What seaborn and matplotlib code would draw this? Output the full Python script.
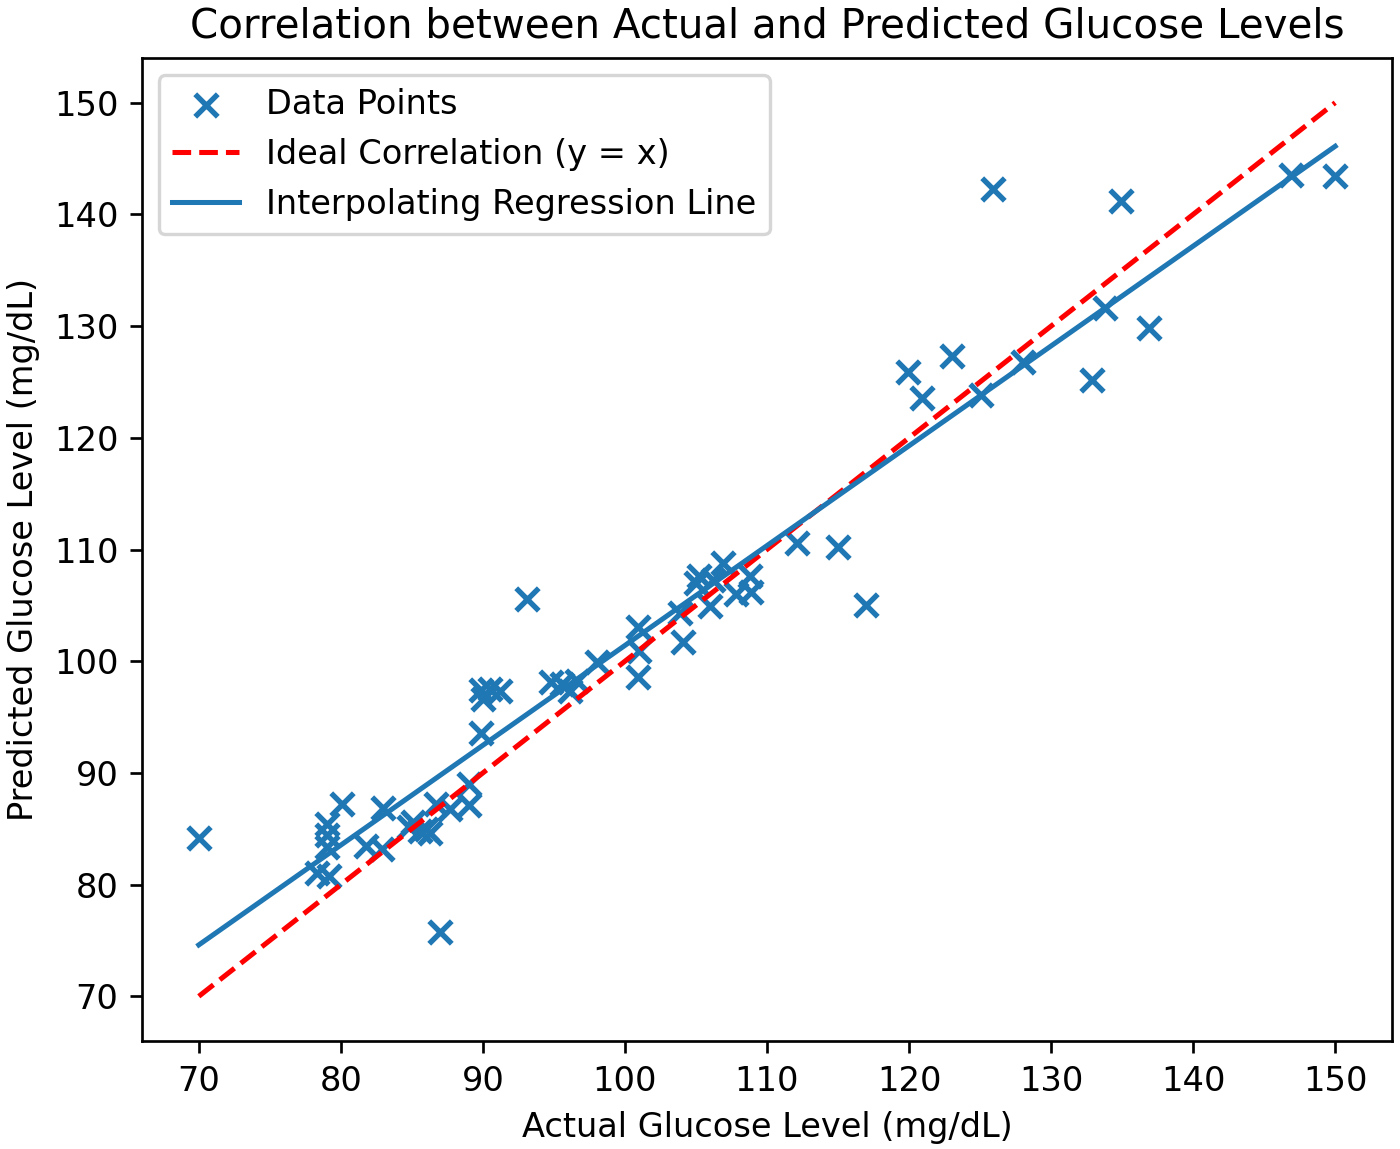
import numpy as np
import matplotlib
matplotlib.use("Agg")
import matplotlib.pyplot as plt
import seaborn as sns

# values
actual = [70.0, 78.3, 79.2, 79.0, 79.0, 79.0, 80.1, 81.8, 82.9, 83.0,
          84.8, 85.1, 85.6, 86.0, 86.3, 86.7, 87.0, 87.7, 89.0, 89.0,
          89.9, 90.0, 89.9, 90.5, 91.2, 93.1, 94.8, 95.6, 96.1, 96.6,
          98.0, 100.9, 101.0, 100.9, 104.1, 103.9, 105.0, 105.2, 106.0, 106.2,
          106.9, 107.8, 108.9, 108.8, 112.1, 115.0, 117.0, 119.9, 120.9, 123.0,
          125.1, 125.9, 128.0, 132.9, 133.8, 134.9, 136.9, 146.9, 150.0]
predicted = [84.2, 81.0, 80.8, 83.4, 84.4, 85.4, 87.2, 83.5, 83.2, 86.9,
             85.2, 85.6, 84.8, 85.0, 84.6, 87.2, 75.8, 86.8, 87.1, 89.0,
             93.6, 96.6, 97.4, 97.5, 97.3, 105.6, 98.1, 98.0, 97.3, 98.2,
             99.9, 98.6, 100.9, 103.1, 101.7, 104.3, 107.0, 107.6, 104.9, 107.3,
             108.8, 106.0, 106.2, 107.6, 110.6, 110.2, 105.0, 125.9, 123.6, 127.3,
             123.8, 142.3, 126.8, 125.2, 131.6, 141.2, 129.8, 143.5, 143.4]

ideal_x = [70, 150]
ideal_y = [70, 150]
reg_x = [70, 150]
reg_y = [74.6, 146.1]

blue = "#1f77b4"
DPI = 242

fig = plt.figure(figsize=(1400 / DPI, 1149 / DPI), dpi=DPI)
ax = fig.add_axes([0.1014, 0.094, 0.8929, 0.8555])

sns.scatterplot(x=actual, y=predicted, marker="x", s=45, color=blue,
                linewidth=1.6, label="Data Points", ax=ax)
sns.lineplot(x=ideal_x, y=ideal_y, color="red", linestyle="--",
             linewidth=1.5, label="Ideal Correlation (y = x)", ax=ax)
sns.lineplot(x=reg_x, y=reg_y, color=blue, linewidth=1.5,
             label="Interpolating Regression Line", ax=ax)

ax.set_xlim(66, 154)
ax.set_ylim(66, 154)
ax.set_xticks(np.arange(70, 151, 10))
ax.set_yticks(np.arange(70, 151, 10))
ax.set_title("Correlation between Actual and Predicted Glucose Levels")
ax.set_xlabel("Actual Glucose Level (mg/dL)")
ax.set_ylabel("Predicted Glucose Level (mg/dL)")
ax.legend(loc="upper left")

fig.savefig("out.png", dpi=DPI)
